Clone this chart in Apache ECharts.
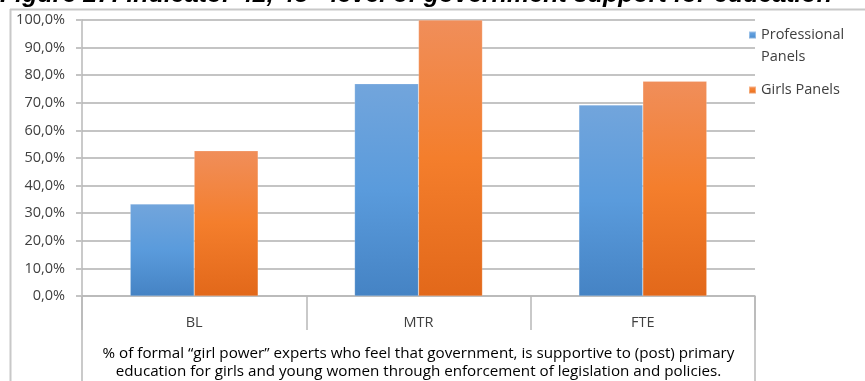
<!DOCTYPE html>
<html>
<head>
<meta charset="utf-8">
<script src="https://cdn.jsdelivr.net/npm/echarts@6/dist/echarts.min.js"></script>
<style>
  html, body { margin: 0; padding: 0; background: #fff; }
  #chart { width: 865px; height: 381px; }
</style>
</head>
<body>
<div id="chart"></div>
<script>
// Panel categories and shares (fraction of experts)
const categories = ['BL', 'MTR', 'FTE'];
const professionalPanels = [0.333, 0.769, 0.692];
const girlsPanels = [0.526, 1.0, 0.778];
const yTicks = [0, 0.1, 0.2, 0.3, 0.4, 0.5, 0.6, 0.7, 0.8, 0.9, 1.0];
const seriesNames = ['Professional Panels', 'Girls Panels'];
const axisTitleLines = [
  '% of formal \u201cgirl power\u201d experts who feel that government, is supportive to (post) primary',
  'education for girls and young women through enforcement of legislation and policies.'
];
const figureTitle = 'Figure 27: Indicator 42, 43 - level of government support for education';

const FONT = 'Open Sans';
const GRID = { left: 82, right: 110, top: 20, bottom: 85 };
const W = 865, H = 381;
const plotRight = W - GRID.right;
const plotCenter = (GRID.left + plotRight) / 2;
const axisY = H - GRID.bottom;
const frameColor = '#b8b8b8';
const textColor = '#404040';

function grad(top, mid, bottom) {
  return new echarts.graphic.LinearGradient(0, 0, 0, 1, [
    { offset: 0, color: top },
    { offset: 0.5, color: mid },
    { offset: 1, color: bottom }
  ]);
}

const chart = echarts.init(document.getElementById('chart'), null, { renderer: 'canvas' });

chart.setOption({
  animation: false,
  backgroundColor: '#fff',
  textStyle: { fontFamily: FONT },
  grid: GRID,
  legend: {
    orient: 'vertical',
    left: 748,
    top: 2,
    padding: 0,
    itemWidth: 7,
    itemHeight: 7,
    itemGap: 11,
    icon: 'rect',
    textStyle: { fontFamily: FONT, fontSize: 14.5, color: textColor, lineHeight: 22 },
    // leading blank line keeps the swatch beside the first line of a wrapped name
    formatter: name => name === seriesNames[0] ? '\nProfessional\nPanels' : name,
    data: seriesNames
  },
  xAxis: {
    type: 'category',
    data: categories,
    axisLine: { lineStyle: { color: frameColor, width: 1.5 } },
    axisTick: { show: true, length: 34, lineStyle: { color: frameColor, width: 1.5 } },
    axisLabel: { margin: 19, fontSize: 14.5, color: textColor, fontFamily: FONT }
  },
  yAxis: {
    type: 'value',
    min: 0,
    max: 1,
    interval: 0.1,
    axisLine: { show: true, lineStyle: { color: frameColor, width: 1.5 } },
    axisTick: { show: true, length: 6, lineStyle: { color: '#c4c4c4', width: 2 } },
    axisLabel: {
      margin: 17,
      fontSize: 14.5,
      color: textColor,
      fontFamily: FONT,
      formatter: v => (Math.round(v * 1000) / 10).toFixed(1).replace('.', ',') + '%'
    },
    splitLine: { lineStyle: { color: '#c4c4c4', width: 2 } }
  },
  series: [
    {
      name: seriesNames[0],
      type: 'bar',
      data: professionalPanels,
      barGap: '0%',
      barCategoryGap: '43%',
      itemStyle: { color: grad('#72a5dc', '#5a9bdc', '#4583c4'), borderColor: 'rgba(255,255,255,0.35)', borderWidth: 0.5 }
    },
    {
      name: seriesNames[1],
      type: 'bar',
      data: girlsPanels,
      itemStyle: { color: grad('#f08e5a', '#f47e2c', '#e2681a'), borderColor: 'rgba(255,255,255,0.35)', borderWidth: 0.5 }
    }
  ],
  graphic: [
    // outer chart frame (left and top edges)
    { type: 'line', shape: { x1: 10, y1: 9.5, x2: W, y2: 9.5 }, style: { stroke: '#c8c8c8', lineWidth: 2 }, silent: true },
    { type: 'line', shape: { x1: 10.5, y1: 9, x2: 10.5, y2: H }, style: { stroke: '#c8c8c8', lineWidth: 2 }, silent: true },
    // category table outer borders continuing down
    { type: 'line', shape: { x1: GRID.left, y1: axisY, x2: GRID.left, y2: H }, style: { stroke: frameColor, lineWidth: 1.5 }, silent: true },
    { type: 'line', shape: { x1: plotRight, y1: axisY, x2: plotRight, y2: H }, style: { stroke: frameColor, lineWidth: 1.5 }, silent: true },
    // axis title
    {
      type: 'text',
      x: plotCenter,
      y: 345,
      style: {
        text: axisTitleLines.join('\n'),
        font: '15.2px "' + FONT + '"',
        fill: '#000',
        align: 'center',
        verticalAlign: 'top',
        lineHeight: 18
      },
      silent: true
    },
    // figure caption
    {
      type: 'text',
      x: 0,
      y: -5,
      style: {
        text: figureTitle,
        font: 'italic bold 25px "Liberation Sans"',
        fill: '#000',
        verticalAlign: 'middle'
      },
      silent: true
    }
  ]
});
</script>
</body>
</html>
